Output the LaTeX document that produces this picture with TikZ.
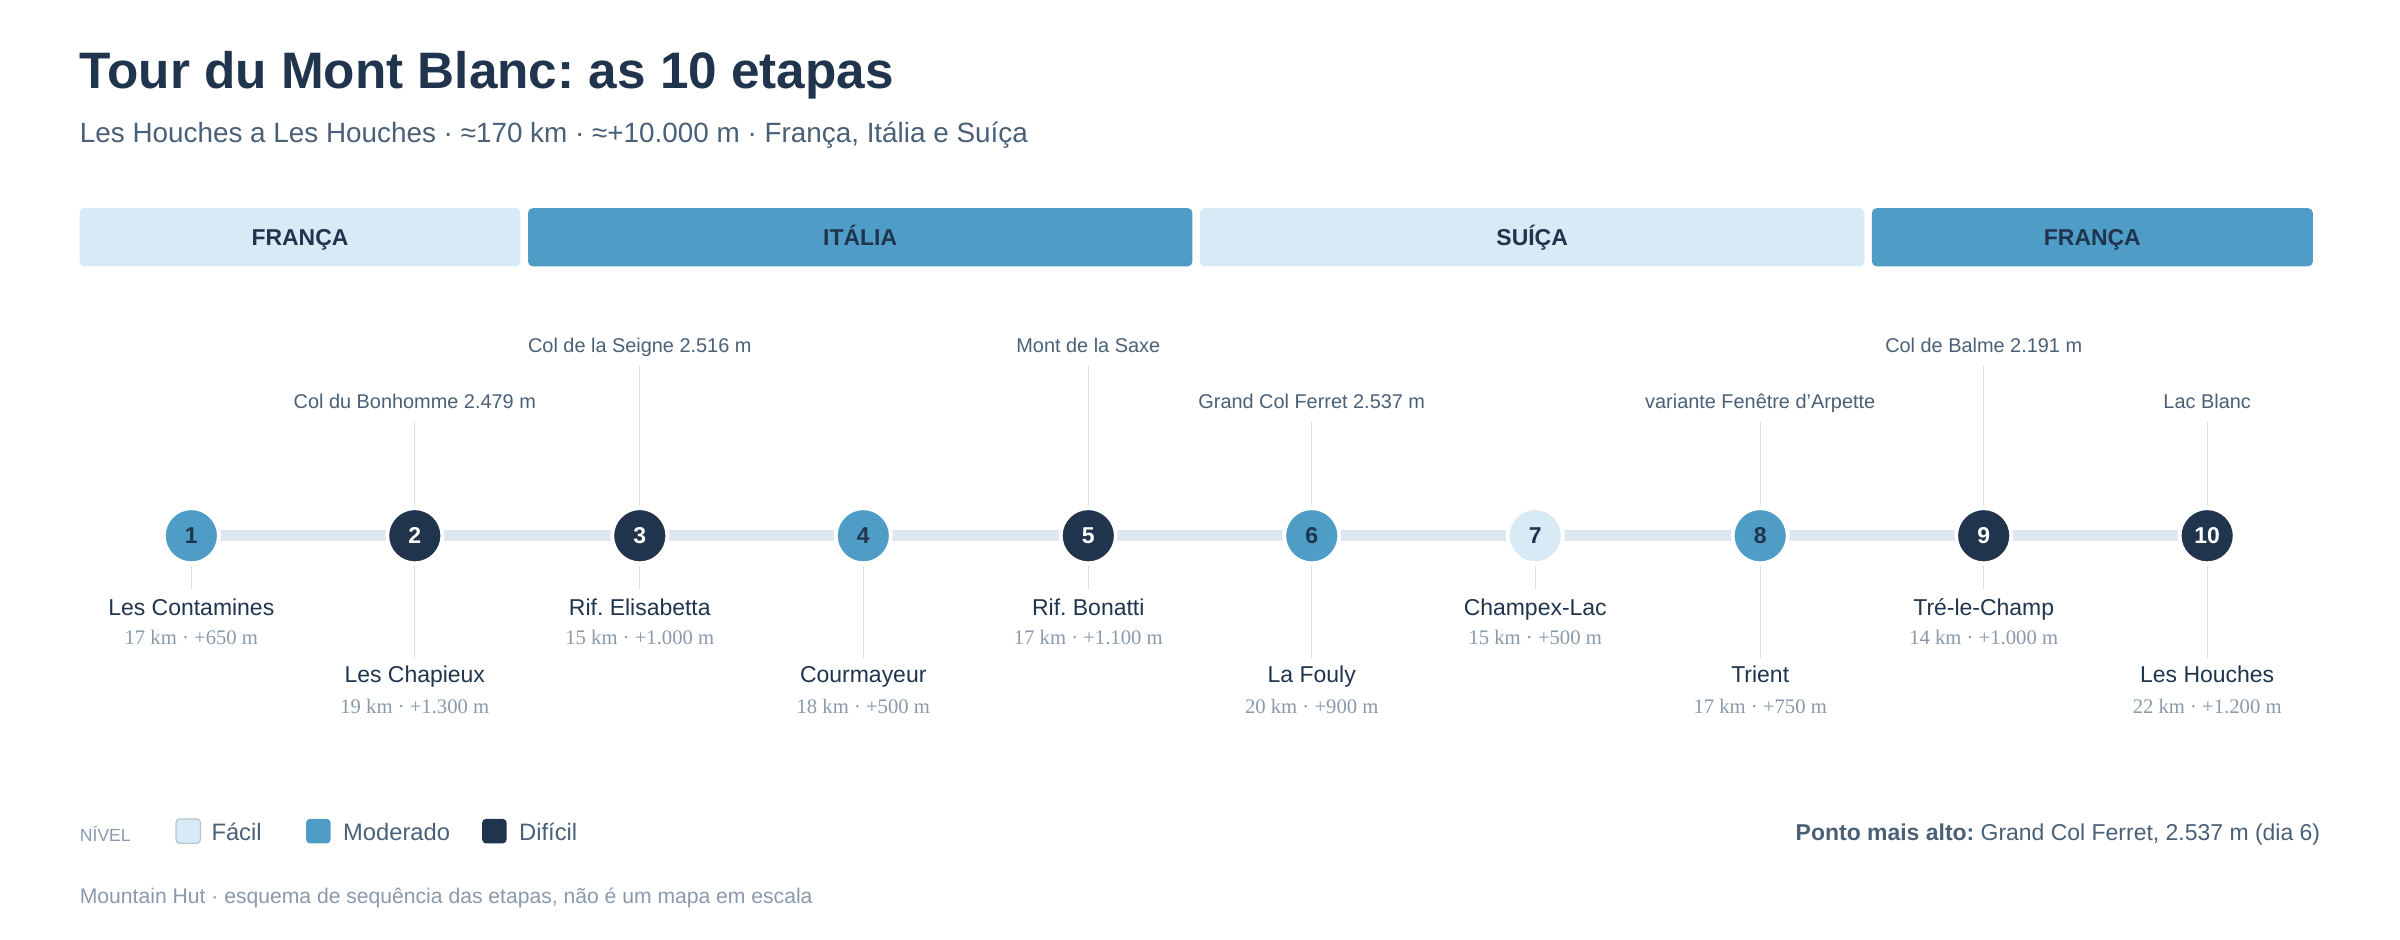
\documentclass[tikz,border=0pt]{standalone}
\usepackage{fontspec}
\setmainfont{Liberation Sans}
\newfontfamily\statfont{Liberation Serif}
\frenchspacing
\begin{document}
\begin{tikzpicture}[x=1pt,y=-1pt,inner sep=0pt,
  band/.style={rounded corners=3pt,minimum height=38pt,text height=11pt,text depth=0pt,font=\fontsize{15}{17}\selectfont\bfseries,text=c1},
  stage/.style={circle,minimum size=36pt,draw=white,line width=2.5pt,font=\fontsize{15}{17}\selectfont\bfseries},
  easy/.style={stage,fill=cE,text=c1},
  mod/.style={stage,fill=cM,text=c1},
  hard/.style={stage,fill=c1,text=white},
  passlbl/.style={font=\fontsize{13}{15}\selectfont,text=cS,anchor=base},
  hutlbl/.style={font=\fontsize{15}{17}\selectfont,text=c1,anchor=base},
  statlbl/.style={font=\statfont\fontsize{13.5}{15}\selectfont,text=cG,anchor=base},
  tickln/.style={draw=cL,line width=0.8pt},
  sw/.style={rounded corners=2.5pt,minimum size=16pt}]
\definecolor{c1}{HTML}{20354D}
\definecolor{cE}{HTML}{D8EAF5}
\definecolor{cM}{HTML}{4F9DC6}
\definecolor{cS}{HTML}{4A6076}
\definecolor{cG}{HTML}{8A9AAB}
\definecolor{cL}{HTML}{D5E0EA}
\definecolor{cT}{HTML}{DDE7EF}
\useasboundingbox[fill=white] (0,0) rectangle (1568,614);
\node[anchor=base west,font=\fontsize{33.5}{38}\selectfont\bfseries,text=c1] (title) at (52,58) {Tour du Mont Blanc: as 10 etapas};
\node[anchor=base west,font=\fontsize{18.2}{21}\selectfont,text=cS] (sub) at (52,93) {Les Houches a Les Houches · ≈170 km · ≈+10.000 m · França, Itália e Suíça};
\node[band,fill=cE,minimum width=288pt] (b1) at (196,155) {FRANÇA};
\node[band,fill=cM,minimum width=434pt] (b2) at (562,155) {ITÁLIA};
\node[band,fill=cE,minimum width=434pt] (b3) at (1001,155) {SUÍÇA};
\node[band,fill=cM,minimum width=288pt] (b4) at (1367,155) {FRANÇA};
\draw[cT,line width=7pt] (125,350) -- (1442,350);
\foreach \x in {271,857,1150,1442} \draw[tickln] (\x,276) -- (\x,330);
\foreach \x in {418,711,1296} \draw[tickln] (\x,239) -- (\x,330);
\foreach \x in {125,418,711,1003,1296} \draw[tickln] (\x,370) -- (\x,385);
\foreach \x in {271,564,857,1150,1442} \draw[tickln] (\x,370) -- (\x,430);
\node[mod] (n1) at (125,350) {1};
\node[hard] (n2) at (271,350) {2};
\node[hard] (n3) at (418,350) {3};
\node[mod] (n4) at (564,350) {4};
\node[hard] (n5) at (711,350) {5};
\node[mod] (n6) at (857,350) {6};
\node[easy] (n7) at (1003,350) {7};
\node[mod] (n8) at (1150,350) {8};
\node[hard] (n9) at (1296,350) {9};
\node[hard] (n10) at (1442,350) {10};
\node[passlbl] (p2) at (271,267) {Col du Bonhomme 2.479 m};
\node[passlbl] (p3) at (418,230) {Col de la Seigne 2.516 m};
\node[passlbl] (p5) at (711,230) {Mont de la Saxe};
\node[passlbl] (p6) at (857,267) {Grand Col Ferret 2.537 m};
\node[passlbl] (p8) at (1150,267) {variante Fenêtre d'Arpette};
\node[passlbl] (p9) at (1296,230) {Col de Balme 2.191 m};
\node[passlbl] (p10) at (1442,267) {Lac Blanc};
\node[hutlbl] (l1) at (125,402) {Les Contamines};
\node[statlbl] (s1) at (125,421) {17 km · +650 m};
\node[hutlbl] (l3) at (418,402) {Rif. Elisabetta};
\node[statlbl] (s3) at (418,421) {15 km · +1.000 m};
\node[hutlbl] (l5) at (711,402) {Rif. Bonatti};
\node[statlbl] (s5) at (711,421) {17 km · +1.100 m};
\node[hutlbl] (l7) at (1003,402) {Champex-Lac};
\node[statlbl] (s7) at (1003,421) {15 km · +500 m};
\node[hutlbl] (l9) at (1296,402) {Tré-le-Champ};
\node[statlbl] (s9) at (1296,421) {14 km · +1.000 m};
\node[hutlbl] (l2) at (271,446) {Les Chapieux};
\node[statlbl] (s2) at (271,466) {19 km · +1.300 m};
\node[hutlbl] (l4) at (564,446) {Courmayeur};
\node[statlbl] (s4) at (564,466) {18 km · +500 m};
\node[hutlbl] (l6) at (857,446) {La Fouly};
\node[statlbl] (s6) at (857,466) {20 km · +900 m};
\node[hutlbl] (l8) at (1150,446) {Trient};
\node[statlbl] (s8) at (1150,466) {17 km · +750 m};
\node[hutlbl] (l10) at (1442,446) {Les Houches};
\node[statlbl] (s10) at (1442,466) {22 km · +1.200 m};
\node[anchor=base west,font=\fontsize{11.5}{13}\selectfont,text=cG] (lv) at (52,550) {NÍVEL};
\node[sw,fill=cE,draw=cG!60,line width=0.8pt] (k1) at (123,543) {};
\node[anchor=base west,font=\fontsize{15.5}{18}\selectfont,text=cS] (t1) at (138,549) {Fácil};
\node[sw,fill=cM] (k2) at (208,543) {};
\node[anchor=base west,font=\fontsize{15.5}{18}\selectfont,text=cS] (t2) at (224,549) {Moderado};
\node[sw,fill=c1] (k3) at (323,543) {};
\node[anchor=base west,font=\fontsize{15.5}{18}\selectfont,text=cS] (t3) at (339,549) {Difícil};
\node[anchor=base east,font=\fontsize{15}{18}\selectfont,text=cS] (hp) at (1516,549) {\textbf{Ponto mais alto:} Grand Col Ferret, 2.537 m (dia 6)};
\node[anchor=base west,font=\fontsize{13.8}{16}\selectfont,text=cG] (ft) at (52,590) {Mountain Hut · esquema de sequência das etapas, não é um mapa em escala};
\end{tikzpicture}
\end{document}
